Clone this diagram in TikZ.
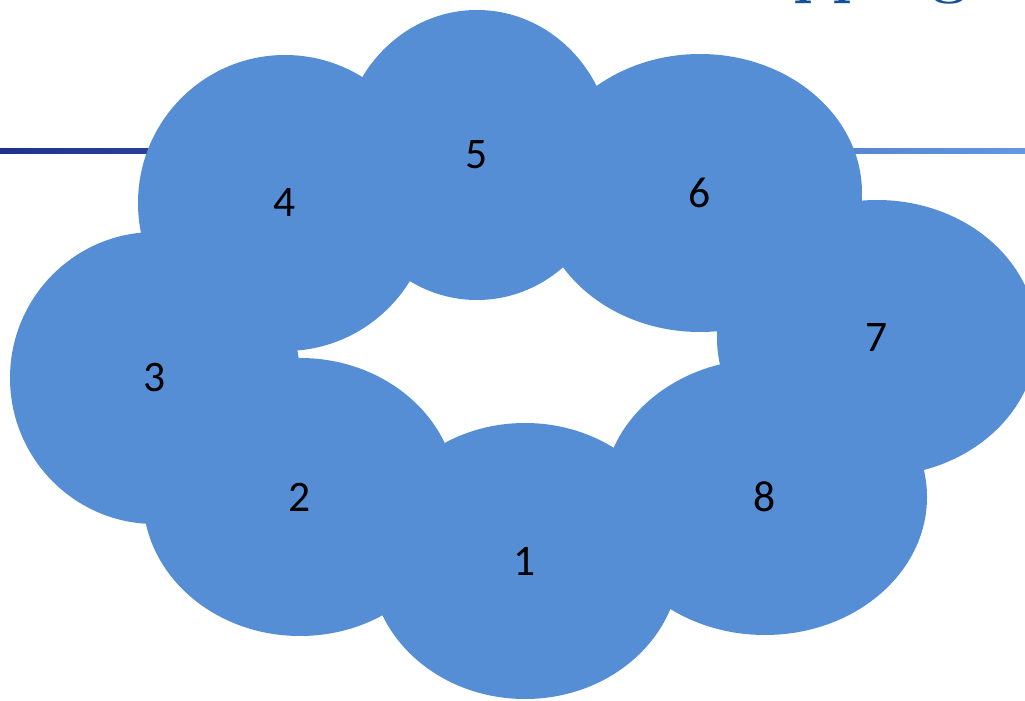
\documentclass[tikz,border=0pt]{standalone}
\usepackage{fontspec}
\newfontfamily\numfont{Carlito}
\usetikzlibrary{shapes.geometric}
\definecolor{cloud}{RGB}{85,142,213}
\definecolor{ruledark}{RGB}{30,50,140}
\definecolor{rulelight}{RGB}{100,150,225}
\definecolor{titleblue}{RGB}{20,80,150}
\tikzset{
  every picture/.style={x=0.025cm, y=-0.025cm},
  puff/.style={ellipse, fill=cloud, draw=none, inner sep=0pt, text=black, font=\numfont\fontsize{31}{31}\selectfont},
  rule/.style={left color=ruledark, right color=rulelight, draw=none},
  title/.style={font=\bfseries\fontsize{45}{45}\selectfont, text=titleblue, inner sep=0pt},
}
\begin{document}
\begin{tikzpicture}
  \useasboundingbox (0,0) rectangle (1025,701);
  % clipped title above the frame and the rule behind the cloud
  \begin{scope}
    \clip (0,0) rectangle (1025,701);
    \node[title, anchor=base west] (head) at (691,-8) {Mapping};
  \end{scope}
  \shade[rule] (0,149) rectangle (1025,154);
  % the eight puffs of the ring
  \foreach \n/\cx/\cy/\rx/\ry in {1/525/561/155/138, 2/300/497/157/139, 3/155/378/145/146, 4/285/203/147/148,
                                  5/477/155/136/145, 6/700/193/162/139, 7/877/338/160/138, 8/765/497/162/138} {
    \node[puff, minimum width=2*\rx*0.025cm, minimum height=2*\ry*0.025cm] (p\n) at (\cx,\cy) {\n};
  }
\end{tikzpicture}
\end{document}
